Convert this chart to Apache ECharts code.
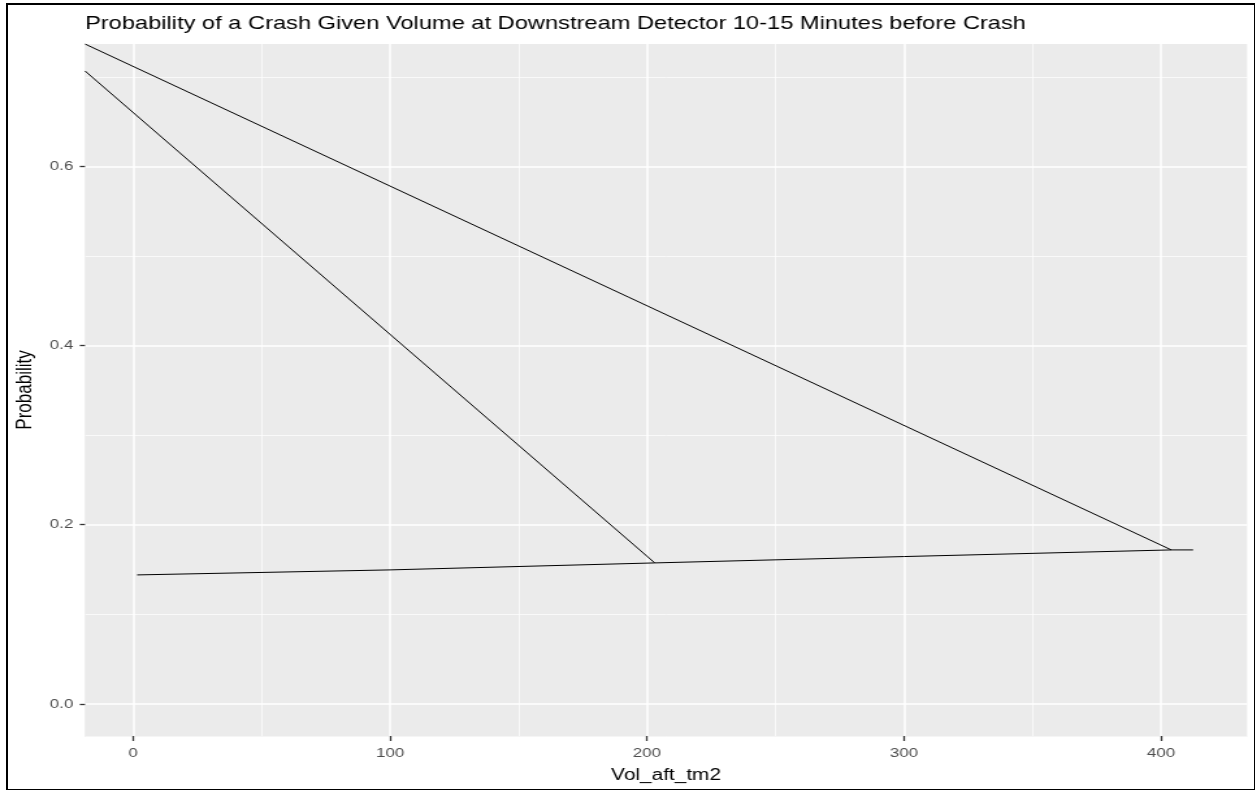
<!DOCTYPE html>
<html>
<head>
<meta charset="utf-8">
<script src="https://cdn.jsdelivr.net/npm/echarts@6/dist/echarts.min.js"></script>
<style>
  html, body { margin: 0; padding: 0; background: #fff; overflow: hidden; }
  /* the reference is a horizontally stretched ggplot export, so the chart is drawn narrower and stretched */
  #chart { width: 967px; height: 792px; position: absolute; left: 0; top: 0;
           transform: scaleX(1.3); transform-origin: 0 0; }
  #frame {
    position: absolute; left: 6px; top: 3px; width: 1249px; height: 787px;
    box-sizing: border-box; border: 2px solid #000; border-right-width: 1px; border-bottom-width: 1px;
    pointer-events: none;
  }
</style>
</head>
<body>
<div id="chart"></div>
<div id="frame"></div>
<script>
  // axis ticks (minor grid lines come from the axis' own minor ticks: 50s and 0.1s)
  var xTicks = [0, 100, 200, 300, 400];
  var yTicks = [0, 0.2, 0.4, 0.6];

  // nearly flat fitted curve
  var curveX = [1.6, 100, 203, 300, 404, 412.5];
  var curveY = [0.144, 0.1496, 0.1574, 0.1645, 0.1719, 0.1719];

  // the two diagonal segments (start beyond the left edge)
  var diagAX = [-18.7, 203];
  var diagAY = [0.7065, 0.1574];
  var diagBX = [-18.7, 404];
  var diagBY = [0.7366, 0.1719];

  function pairs(xs, ys) {
    return xs.map(function (x, i) { return [x, ys[i]]; });
  }

  var font = 'Liberation Sans, Arial, sans-serif';
  var xMin = -18.7, xMax = 433.5;
  var yMin = -0.0358, yMax = 0.7366;
  var sx = 1.3;

  function lineSeries(data) {
    return {
      type: 'line',
      data: data,
      showSymbol: false,
      symbol: 'none',
      silent: true,
      lineStyle: { color: '#000', width: 1 }
    };
  }

  var option = {
    animation: false,
    title: {
      text: 'Probability of a Crash Given Volume at Downstream Detector 10-15 Minutes before Crash',
      left: 85 / sx,
      top: 15,
      padding: 0,
      textStyle: { fontFamily: font, fontSize: 18.2, fontWeight: 'normal', color: '#000' }
    },
    grid: {
      left: 85 / sx, right: 10 / sx, top: 44, bottom: 56,
      show: true, backgroundColor: '#EBEBEB', borderWidth: 0
    },
    xAxis: {
      type: 'value', min: xMin, max: xMax,
      name: 'Vol_aft_tm2', nameLocation: 'middle', nameGap: 32,
      nameTextStyle: { fontFamily: font, fontSize: 16, color: '#000' },
      axisLine: { show: true, onZero: false, lineStyle: { color: '#EBEBEB', width: 0.5 } },
      axisTick: { show: true, inside: false, customValues: xTicks, length: 5,
                  lineStyle: { color: '#333', width: 1.3 } },
      axisLabel: { customValues: xTicks, fontFamily: font, fontSize: 13, color: '#4D4D4D', margin: 11 },
      splitLine: { show: true, lineStyle: { color: '#fff', width: 1.5 } },
      minorTick: { show: false, splitNumber: 2 },
      minorSplitLine: { show: true, lineStyle: { color: '#fff', width: 0.7 } }
    },
    yAxis: {
      type: 'value', min: yMin, max: yMax,
      name: 'Probability', nameLocation: 'middle', nameGap: 31, nameRotate: 90,
      nameTextStyle: { fontFamily: font, fontSize: 17, color: '#000' },
      axisLine: { show: true, onZero: false, lineStyle: { color: '#EBEBEB', width: 0.5 } },
      axisTick: { show: true, inside: false, customValues: yTicks, length: 4,
                  lineStyle: { color: '#333', width: 1.3 } },
      axisLabel: {
        customValues: yTicks, fontFamily: font, fontSize: 13, color: '#4D4D4D', margin: 9,
        formatter: function (v) { return v.toFixed(1); }
      },
      splitLine: { show: true, lineStyle: { color: '#fff', width: 1.5 } },
      minorTick: { show: false, splitNumber: 2 },
      minorSplitLine: { show: true, lineStyle: { color: '#fff', width: 0.7 } }
    },
    series: [
      lineSeries(pairs(curveX, curveY)),
      lineSeries(pairs(diagAX, diagAY)),
      lineSeries(pairs(diagBX, diagBY))
    ]
  };

  var myChart = echarts.init(document.getElementById('chart'), null, { renderer: 'canvas' });
  myChart.setOption(option);
</script>
</body>
</html>
